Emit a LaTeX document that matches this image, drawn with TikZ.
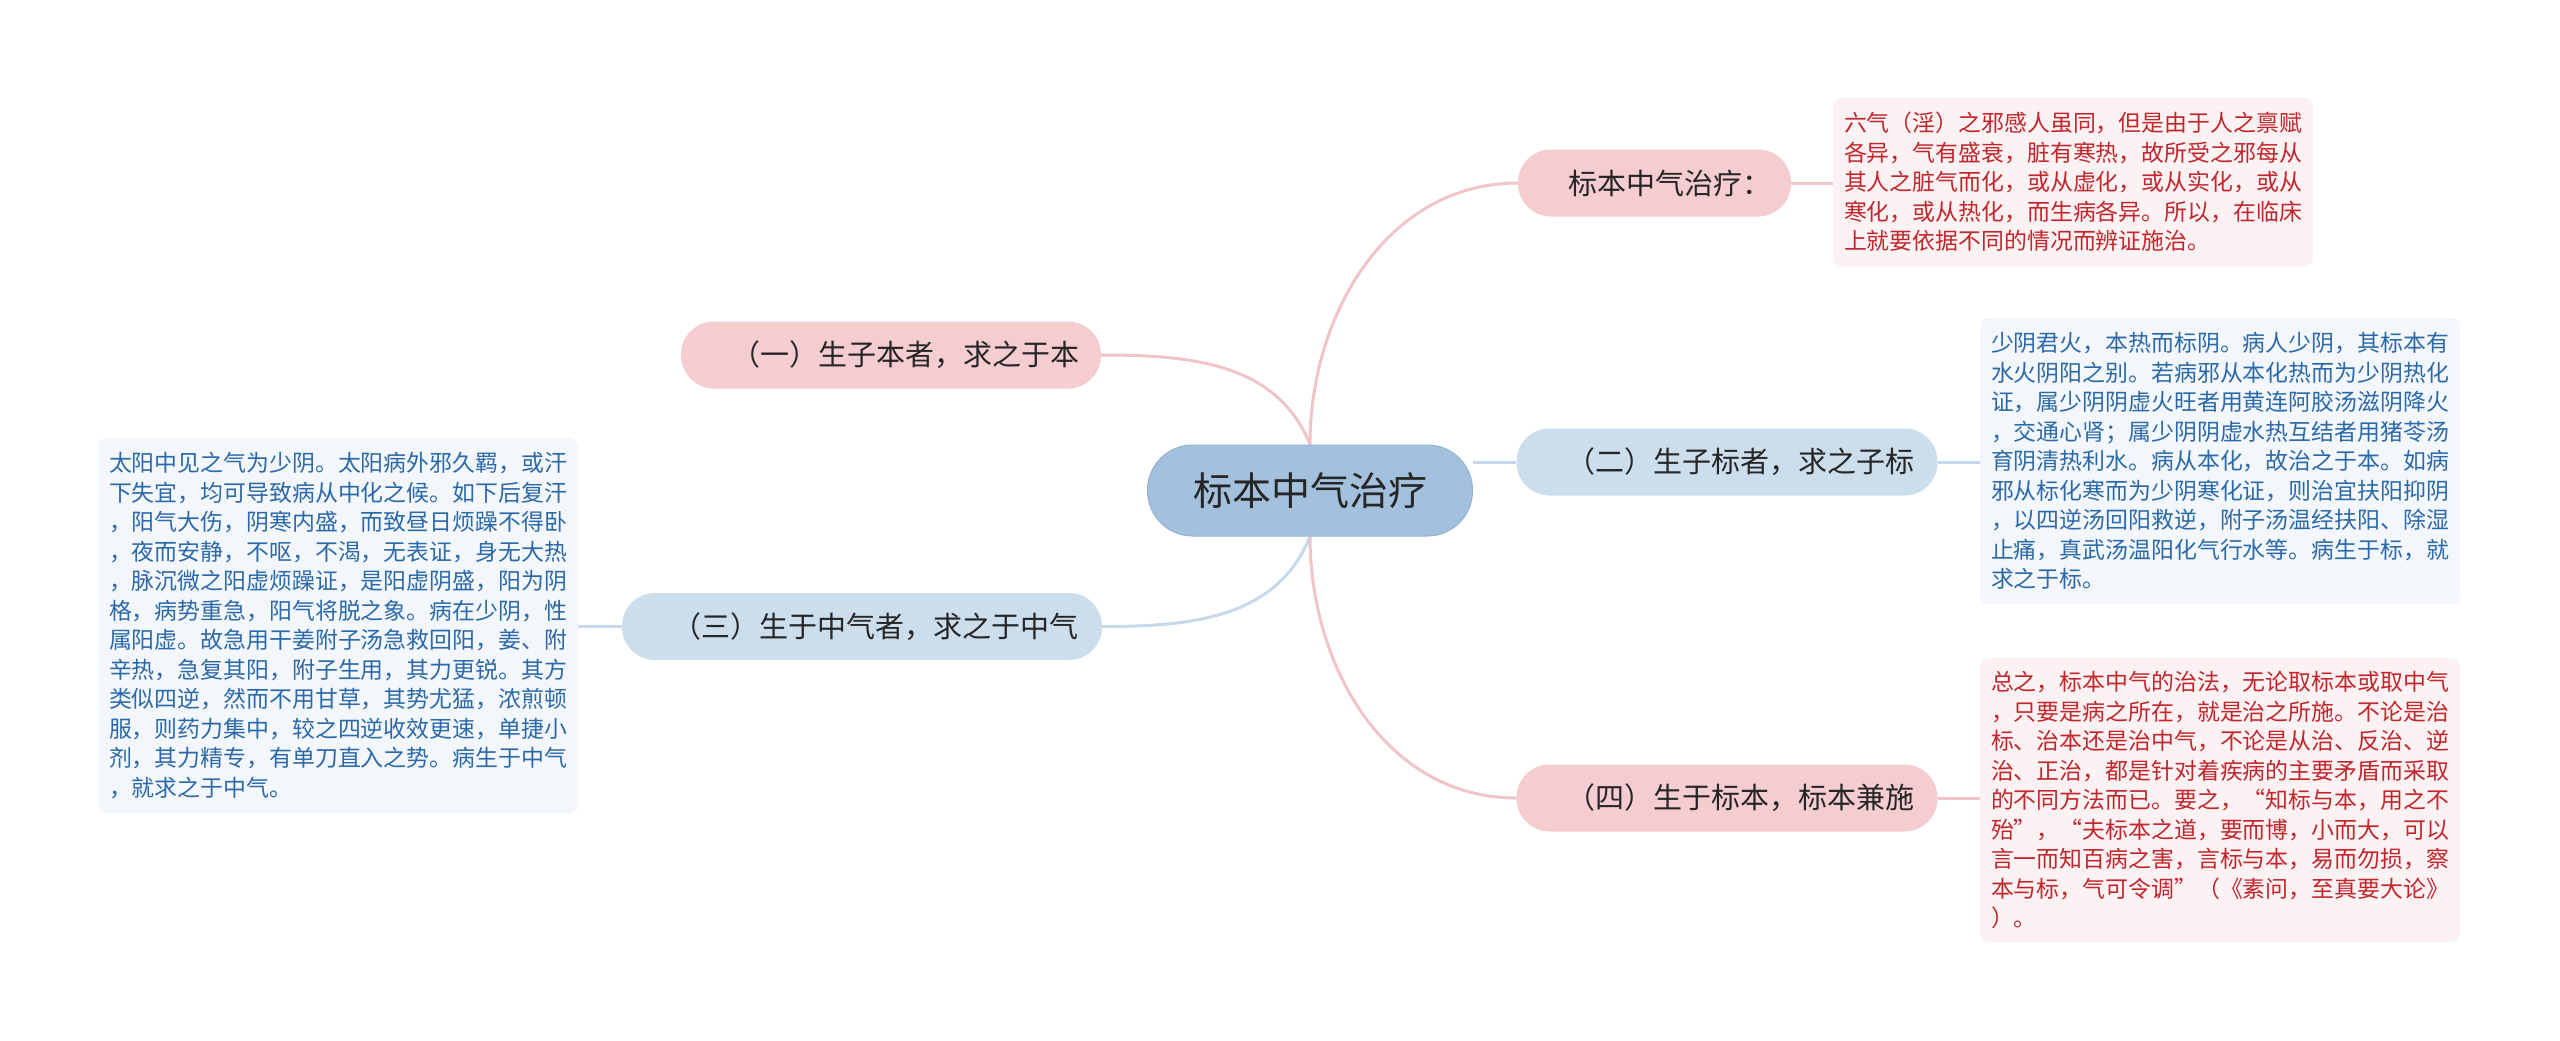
\documentclass[tikz,border=0pt]{standalone}
\usepackage{fontspec}
\setmainfont{Noto Sans CJK SC}
\usetikzlibrary{backgrounds}

\definecolor{hubfill}{HTML}{A3C1DD}
\definecolor{hubline}{HTML}{94B3D1}
\definecolor{pinkfill}{HTML}{F5CDD0}
\definecolor{bluefill}{HTML}{CCDDEC}
\definecolor{pinkleaf}{HTML}{FDF2F3}
\definecolor{blueleaf}{HTML}{F3F7FC}
\definecolor{pinkline}{HTML}{F0C4C8}
\definecolor{blueline}{HTML}{C6D8EA}
\definecolor{redtext}{HTML}{C0272D}
\definecolor{bluetext}{HTML}{2C69A8}

\tikzset{
  hub/.style={fill=hubfill, draw=hubline, line width=1pt, rounded corners=45pt,
    minimum width=325pt, minimum height=91pt, text=black!85,
    font=\fontsize{39}{46}\selectfont},
  branch/.style={rounded corners=33pt, minimum height=67pt, inner xsep=34pt,
    inner ysep=0pt, align=left, text=black!85, font=\fontsize{29}{34}\selectfont},
  pinkbranch/.style={branch, fill=pinkfill},
  bluebranch/.style={branch, fill=bluefill},
  leaf/.style={rounded corners=8pt, inner xsep=11pt, inner ysep=4pt,
    text width=458pt, align=left, font=\fontsize{22.9}{29.5}\selectfont},
  pinkleafbox/.style={leaf, fill=pinkleaf, text=redtext},
  blueleafbox/.style={leaf, fill=blueleaf, text=bluetext},
  pinkedge/.style={draw=pinkline, line width=3pt},
  blueedge/.style={draw=blueline, line width=3pt}
}

\begin{document}
\begin{tikzpicture}[x=1pt,y=1pt]
\useasboundingbox (0,0) rectangle (2560,-1041);

% centre and branches
\node[hub] (hub) at (1310,-490.5) {标本中气治疗};
\node[pinkbranch, text width=205pt] (intro) at (1654.5,-183) {\hspace*{16pt}标本中气治疗：};
\node[bluebranch, text width=353pt] (biao) at (1727,-462) {\hspace*{16pt}（二）生子标者，求之子标};
\node[pinkbranch, text width=353pt] (jian) at (1727,-798) {\hspace*{16pt}（四）生于标本，标本兼施};
\node[pinkbranch, text width=352pt] (ben) at (891,-355) {\hspace*{16pt}（一）生子本者，求之于本};
\node[bluebranch, text width=412pt] (zhong) at (862,-626.5) {\hspace*{16pt}（三）生于中气者，求之于中气};

% leaves
\node[pinkleafbox, minimum height=168pt] (introtxt) at (2073,-182) {六气（淫）之邪感人虽同，但是由于人之禀赋\\
各异，气有盛衰，脏有寒热，故所受之邪每从\\
其人之脏气而化，或从虚化，或从实化，或从\\
寒化，或从热化，而生病各异。所以，在临床\\
上就要依据不同的情况而辨证施治。};
\node[blueleafbox, minimum height=286pt] (biaotxt) at (2220,-461) {少阴君火，本热而标阴。病人少阴，其标本有\\
水火阴阳之别。若病邪从本化热而为少阴热化\\
证，属少阴阴虚火旺者用黄连阿胶汤滋阴降火\\
，交通心肾；属少阴阴虚水热互结者用猪苓汤\\
育阴清热利水。病从本化，故治之于本。如病\\
邪从标化寒而为少阴寒化证，则治宜扶阳抑阴\\
，以四逆汤回阳救逆，附子汤温经扶阳、除湿\\
止痛，真武汤温阳化气行水等。病生于标，就\\
求之于标。};
\node[pinkleafbox, minimum height=284pt] (jiantxt) at (2220,-800) {总之，标本中气的治法，无论取标本或取中气\\
，只要是病之所在，就是治之所施。不论是治\\
标、治本还是治中气，不论是从治、反治、逆\\
治、正治，都是针对着疾病的主要矛盾而采取\\
的不同方法而已。要之，“知标与本，用之不\\
殆”，“夫标本之道，要而博，小而大，可以\\
言一而知百病之害，言标与本，易而勿损，察\\
本与标，气可令调”（《素问，至真要大论》\\
）。};
\node[blueleafbox, minimum height=375pt] (zhongtxt) at (338,-625.5) {太阳中见之气为少阴。太阳病外邪久羁，或汗\\
下失宜，均可导致病从中化之候。如下后复汗\\
，阳气大伤，阴寒内盛，而致昼日烦躁不得卧\\
，夜而安静，不呕，不渴，无表证，身无大热\\
，脉沉微之阳虚烦躁证，是阳虚阴盛，阳为阴\\
格，病势重急，阳气将脱之象。病在少阴，性\\
属阳虚。故急用干姜附子汤急救回阳，姜、附\\
辛热，急复其阳，附子生用，其力更锐。其方\\
类似四逆，然而不用甘草，其势尤猛，浓煎顿\\
服，则药力集中，较之四逆收效更速，单捷小\\
剂，其力精专，有单刀直入之势。病生于中气\\
，就求之于中气。};

% connectors
\begin{scope}[on background layer]
\fill[white] (0,0) rectangle (2560,-1041);
\draw[pinkedge] (hub.north) to[out=90,in=180] (intro.west);
\draw[pinkedge] (hub.north) to[out=112,in=0] (ben.east);
\draw[blueedge] (hub.east |- biao.west) -- (biao.west);
\draw[blueedge] (hub.south) to[out=-112,in=0] (zhong.east);
\draw[pinkedge] (hub.south) to[out=-90,in=180] (jian.west);
\draw[pinkedge] (intro.east) -- (intro.east -| introtxt.west);
\draw[blueedge] (biao.east) -- (biao.east -| biaotxt.west);
\draw[pinkedge] (jian.east) -- (jian.east -| jiantxt.west);
\draw[blueedge] (zhong.west) -- (zhong.west -| zhongtxt.east);
\end{scope}
\end{tikzpicture}
\end{document}
